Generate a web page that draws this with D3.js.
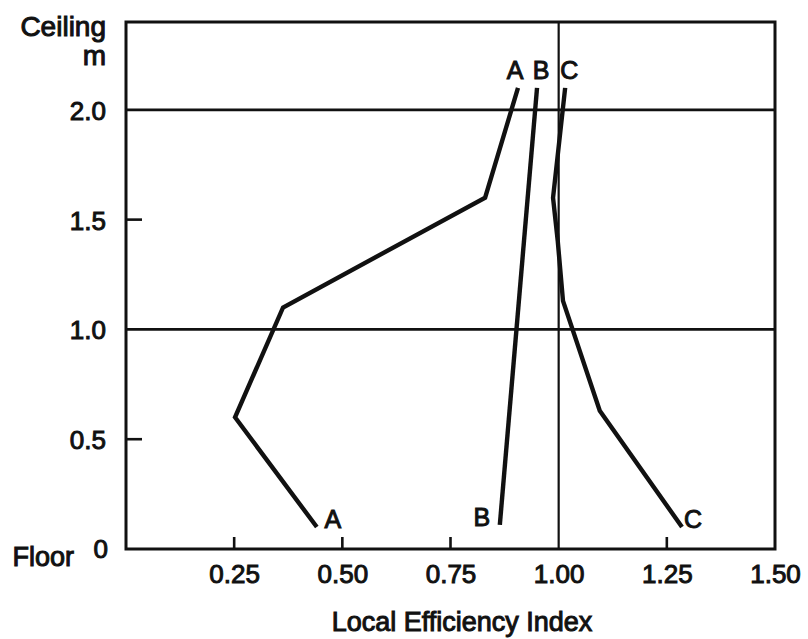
<!DOCTYPE html>
<html><head><meta charset="utf-8">
<script src="https://cdn.jsdelivr.net/npm/d3@7"></script>
<style>body{margin:0;background:#fff}svg text{font-family:"Liberation Sans",Arial,sans-serif;fill:#111}</style>
</head><body><svg id="c" width="808" height="639"></svg>
<script>
// Data (Local Efficiency Index vs height, m)
const seriesNames = ["A","B","C"];
const seriesA = [[0.441,0.10],[0.252,0.60],[0.363,1.10],[0.830,1.60],[0.906,2.10]];
const seriesB = [[0.864,0.11],[0.950,2.10]];
const seriesC = [[1.285,0.10],[1.095,0.63],[1.010,1.13],[0.998,1.40],[0.987,1.60],[1.015,2.10]];
const xTicks = [0.25,0.50,0.75,1.00,1.25,1.50];
const xTickLabels = ["0.25","0.50","0.75","1.00","1.25","1.50"];
const yTicks = [0.5,1.0,1.5,2.0];
const yTickLabels = ["0.5","1.0","1.5","2.0"];
const xTitle = "Local Efficiency Index";

const svg = d3.select("#c");
const x = d3.scaleLinear().domain([0,1.5]).range([126,775]);
const y = d3.scaleLinear().domain([0,2.4]).range([549,22]);
const SW = 1.0;

const g = svg.append("g");
[1.0,2.0].forEach(v=>g.append("line").attr("x1",x(0)).attr("x2",x(1.5)).attr("y1",y(v)).attr("y2",y(v)).attr("stroke","#111").attr("stroke-width",2.6));
g.append("line").attr("x1",x(1)).attr("x2",x(1)).attr("y1",y(0)).attr("y2",y(2.4)).attr("stroke","#111").attr("stroke-width",2.2);

g.append("rect").attr("x",x(0)).attr("y",y(2.4)).attr("width",x(1.5)-x(0)).attr("height",y(0)-y(2.4))
 .attr("fill","none").attr("stroke","#111").attr("stroke-width",3);

const xa = d3.axisBottom(x).tickValues(xTicks).tickSize(0).tickPadding(0).tickFormat((d,i)=>xTickLabels[i]);
const gx = svg.append("g").attr("transform",`translate(0,${y(0)})`).call(xa);
gx.select(".domain").remove();
gx.selectAll("text").attr("font-size",26).attr("dy",null).attr("y",34).attr("stroke","#111").attr("stroke-width",SW);
xTicks.filter(v=>v!==1.0 && v!==1.5).forEach(v=>svg.append("line").attr("x1",x(v)).attr("x2",x(v)).attr("y1",y(0)).attr("y2",y(0)-12).attr("stroke","#111").attr("stroke-width",2.6));

const ya = d3.axisLeft(y).tickValues(yTicks).tickSize(0).tickPadding(0).tickFormat((d,i)=>yTickLabels[i]);
const gy = svg.append("g").attr("transform",`translate(${x(0)-20},0)`).call(ya);
gy.select(".domain").remove();
gy.selectAll("text").attr("font-size",26).attr("dy","0.36em").attr("stroke","#111").attr("stroke-width",SW);
[0.5,1.5].forEach(v=>svg.append("line").attr("x1",x(0)).attr("x2",x(0)+16).attr("y1",y(v)).attr("y2",y(v)).attr("stroke","#111").attr("stroke-width",2.6));

function txt(t,xx,yy,size,anchor){
  return svg.append("text").attr("x",xx).attr("y",yy).attr("font-size",size).attr("text-anchor",anchor||"middle")
   .attr("stroke","#111").attr("stroke-width",SW).text(t);
}
txt("0",x(0)-18,y(0)+9,26,"end");
txt("Floor",74,566,27,"end");
txt("Ceiling",106,36,28,"end");
txt("m",106,65,28,"end");
txt(xTitle,462,631,27,"middle");

const line = d3.line().x(d=>x(d[0])).y(d=>y(d[1]));
[seriesA,seriesB,seriesC].forEach(s=>{
  svg.append("path").attr("d",line(s)).attr("fill","none").attr("stroke","#111").attr("stroke-width",4.4).attr("stroke-linejoin","miter");
});
const allSeries=[seriesA,seriesB,seriesC];
const topDx=[-3,4,4], botDx=[16,-18,11];
allSeries.forEach((s,i)=>{
  const top=s.reduce((a,b)=>b[1]>a[1]?b:a), bot=s.reduce((a,b)=>b[1]<a[1]?b:a);
  txt(seriesNames[i],x(top[0])+topDx[i],y(top[1])-9,25,"middle");
  txt(seriesNames[i],x(bot[0])+botDx[i],y(bot[1])+1,25,"middle");
});
</script></body></html>
